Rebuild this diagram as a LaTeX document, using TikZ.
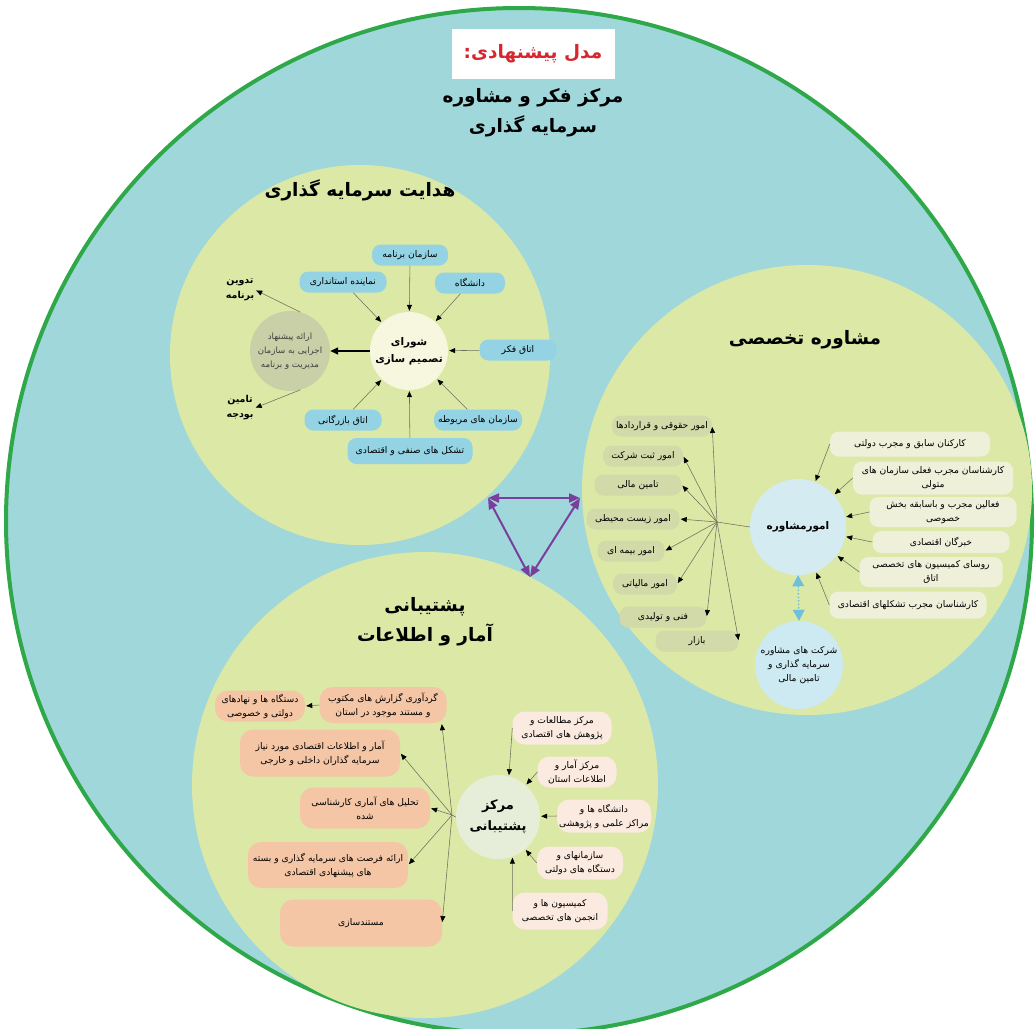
\documentclass[tikz,border=0pt]{standalone}
\usepackage{fontspec}
\usetikzlibrary{arrows.meta,calc}
\newfontfamily\arabicfont[Script=Arabic]{DejaVu Sans}
\TeXXeTstate=1
\newcommand\fa[1]{\beginR #1\endR}
\newcommand\fsm{\arabicfont\fontsize{9.2}{14}\selectfont}
\newcommand\fgr{\arabicfont\fontsize{8.6}{14}\selectfont}
\newcommand\fbsm{\arabicfont\bfseries\fontsize{9.5}{15}\selectfont}
\newcommand\fbmid{\arabicfont\bfseries\fontsize{10.5}{17}\selectfont}
\newcommand\fblg{\arabicfont\bfseries\fontsize{13}{21}\selectfont}
\newcommand\fttl{\arabicfont\bfseries\fontsize{18.5}{30}\selectfont}
\definecolor{bgteal}{HTML}{A0D7DB}
\definecolor{bordergreen}{HTML}{2FA84A}
\definecolor{yel}{HTML}{DCE8A6}
\definecolor{bluepill}{HTML}{93D3E3}
\definecolor{shurafill}{HTML}{F6F7DE}
\definecolor{grayfill}{HTML}{C9CFA6}
\definecolor{greenpill}{HTML}{D1DAA8}
\definecolor{creampill}{HTML}{EFF0DA}
\definecolor{moshfill}{HTML}{D4ECF1}
\definecolor{sherkatfill}{HTML}{CDE9F2}
\definecolor{salmon}{HTML}{F5C6A5}
\definecolor{pinkpill}{HTML}{FAEADF}
\definecolor{markazfill}{HTML}{E6EED9}
\definecolor{purp}{HTML}{7A3F9D}
\definecolor{lightblue}{HTML}{6CC0DF}
\definecolor{titlered}{HTML}{D7262E}
\definecolor{arrgray}{HTML}{6E6E5E}
\begin{document}
\begin{tikzpicture}[x=1pt,y=-1pt,
  arr/.style={draw=arrgray, line width=0.55pt, -{Triangle[length=6pt,width=5pt,color=black]}, shorten >=1pt},
  pill/.style={rounded corners=9pt, inner sep=1pt, minimum height=21pt, align=center, font=\fsm},
  bpill/.style={pill, fill=bluepill},
  gpill/.style={pill, fill=greenpill},
  cpill/.style={pill, fill=creampill},
  spill/.style={pill, fill=salmon, rounded corners=13pt},
  ppill/.style={pill, fill=pinkpill, rounded corners=12pt},
  ttl/.style={font=\fttl, align=center, text=black},
  blob/.style={circle, align=center, inner sep=1pt}
]
\useasboundingbox (0,0) rectangle (1036,1028);
\clip (0,0) rectangle (1036,1028);
\fill[white] (0,0) rectangle (1036,1028);
\draw[line width=4pt, draw=bordergreen, fill=bgteal] (519,521) circle[radius=513pt];

% three sub-circles
\fill[yel] (360,355) circle[radius=190pt];
\fill[yel] (807,490) circle[radius=225pt];
\fill[yel] (425,785) circle[radius=233pt];

% title
\node[fill=white, minimum width=163pt, minimum height=50pt, font=\fttl, text=titlered] (tbox) at (533,54) {\fa{مدل پیشنهادی:}};
\node[ttl] (maintitle) at (533,113) {\fa{مرکز فکر و مشاوره}\\\fa{سرمایه گذاری}};

% ---------- top circle ----------
\node[ttl] (t1) at (360,190) {\fa{هدایت سرمایه گذاری}};
\node[bpill, minimum width=76pt] (sb) at (410,255) {\fa{سازمان برنامه}};
\node[bpill, minimum width=87pt] (ns) at (343,282) {\fa{نماینده استانداری}};
\node[bpill, minimum width=70pt] (dn) at (470,283) {\fa{دانشگاه}};
\node[bpill, minimum width=77pt] (fk) at (518,350) {\fa{اتاق فکر}};
\node[bpill, minimum width=88pt] (mr) at (478,420) {\fa{سازمان های مربوطه}};
\node[bpill, minimum width=77pt] (bz) at (343,420) {\fa{اتاق بازرگانی}};
\node[bpill, minimum width=125pt, minimum height=26pt] (ts) at (410,451) {\fa{تشکل های صنفی و اقتصادی}};
\node[blob, fill=shurafill, minimum size=78pt, font=\fbmid] (shura) at (409,351) {\fa{شورای}\\\fa{تصمیم سازی}};
\node[blob, fill=grayfill, minimum size=80pt, font=\fgr, text=black!75] (gray) at (290,351) {\fa{ارائه پیشنهاد}\\\fa{اجرایی به سازمان}\\\fa{مدیریت و برنامه}};
\node[font=\fbsm, align=center, inner sep=1pt] (tadvin) at (240,290) {\fa{تدوین}\\\fa{برنامه}};
\node[font=\fbsm, align=center, inner sep=1pt] (tamin) at (240,408) {\fa{تامین}\\\fa{بودجه}};
\draw[arr] (sb) -- (shura);
\draw[arr] (ns) -- (shura);
\draw[arr] (dn) -- (shura);
\draw[arr] (fk) -- (shura);
\draw[arr] (mr) -- (shura);
\draw[arr] (bz) -- (shura);
\draw[arr] (ts) -- (shura);
\draw[draw=black, line width=1.6pt, -{Triangle[length=8pt,width=7pt]}] (shura) -- (gray);
\draw[arr] (gray.75) -- (tadvin.east);
\draw[arr] (gray.-75) -- (tamin.east);

% ---------- right circle ----------
\node[ttl] (t2) at (805,340) {\fa{مشاوره تخصصی}};
\node[gpill, minimum width=100pt] (p1) at (662,426) {\fa{امور حقوقی و قراردادها}};
\node[gpill, minimum width=80pt] (p2) at (643,456) {\fa{امور ثبت شرکت}};
\node[gpill, minimum width=87pt] (p3) at (638,485) {\fa{تامین مالی}};
\node[gpill, minimum width=93pt] (p4) at (633,519) {\fa{امور زیست محیطی}};
\node[gpill, minimum width=67pt] (p5) at (631,551) {\fa{امور بیمه ای}};
\node[gpill, minimum width=64pt] (p6) at (645,584) {\fa{امور مالیاتی}};
\node[gpill, minimum width=87pt] (p7) at (663,617) {\fa{فنی و تولیدی}};
\node[gpill, minimum width=83pt] (p8) at (697,641) {\fa{بازار}};
\coordinate (hub) at (717,522);
\node[blob, fill=moshfill, minimum size=96pt, font=\fbmid] (mosh) at (798,527) {\fa{امورمشاوره}};
\node[cpill, minimum width=160pt, minimum height=25pt] (k1) at (910,444) {\fa{کارکنان سابق و مجرب دولتی}};
\node[cpill, minimum width=160pt, minimum height=33pt] (k2) at (933,478) {\fa{کارشناسان مجرب فعلی سازمان های}\\\fa{متولی}};
\node[cpill, minimum width=147pt, minimum height=30pt] (k3) at (943,512) {\fa{فعالین مجرب و باسابقه بخش}\\\fa{خصوصی}};
\node[cpill, minimum width=137pt, minimum height=22pt] (k4) at (941,542) {\fa{خبرگان اقتصادی}};
\node[cpill, minimum width=143pt, minimum height=30pt] (k5) at (931,572) {\fa{روسای کمیسیون های تخصصی}\\\fa{اتاق}};
\node[cpill, minimum width=157pt, minimum height=27pt] (k6) at (908,605) {\fa{کارشناسان مجرب تشکلهای اقتصادی}};
\node[blob, fill=sherkatfill, minimum size=88pt, font=\fsm] (sherkat) at (799,665) {\fa{شرکت های مشاوره}\\\fa{سرمایه گذاری و}\\\fa{تامین مالی}};
\draw[draw=arrgray, line width=0.55pt] (mosh.west) -- (hub);
\foreach \p in {p1,p2,p3,p4,p5,p6,p7,p8} \draw[arr] (hub) -- (\p.east);
\foreach \k in {k1,k2,k3,k4,k5,k6} \draw[arr] (\k.west) -- (mosh);
\draw[draw=lightblue, line width=1.5pt, dotted, {Triangle[length=11pt,width=12pt,color=lightblue,line width=0pt]}-{Triangle[length=11pt,width=12pt,color=lightblue,line width=0pt]}] (mosh.south) -- (sherkat.north);

% ---------- bottom circle ----------
\node[ttl] (t3) at (425,622) {\fa{پشتیبانی}\\\fa{آمار و اطلاعات}};
\node[spill, minimum width=127pt, minimum height=36pt] (s1) at (383,705) {\fa{گردآوری گزارش های مکتوب}\\\fa{و مستند موجود در استان}};
\node[spill, minimum width=90pt, minimum height=31pt] (d1) at (260,706) {\fa{دستگاه ها و نهادهای}\\\fa{دولتی و خصوصی}};
\node[spill, minimum width=160pt, minimum height=47pt] (s2) at (320,753) {\fa{آمار و اطلاعات اقتصادی مورد نیاز}\\\fa{سرمایه گذاران داخلی و خارجی}};
\node[spill, minimum width=130pt, minimum height=41pt] (s3) at (365,808) {\fa{تحلیل های آماری کارشناسی}\\\fa{شده}};
\node[spill, minimum width=160pt, minimum height=46pt] (s4) at (328,865) {\fa{ارائه فرصت های سرمایه گذاری و بسته}\\\fa{های پیشنهادی اقتصادی}};
\node[spill, minimum width=162pt, minimum height=47pt] (s5) at (361,923) {\fa{مستندسازی}};
\node[blob, fill=markazfill, minimum size=84pt, font=\fblg] (markaz) at (498,817) {\fa{مرکز}\\\fa{پشتیبانی}};
\coordinate (hub2) at (452,815);
\node[ppill, minimum width=99pt, minimum height=33pt] (c1) at (562,728) {\fa{مرکز مطالعات و}\\\fa{پژوهش های اقتصادی}};
\node[ppill, minimum width=79pt, minimum height=31pt] (c2) at (577,772) {\fa{مرکز آمار و}\\\fa{اطلاعات استان}};
\node[ppill, minimum width=94pt, minimum height=33pt] (c3) at (604,816) {\fa{دانشگاه ها و}\\\fa{مراکز علمی و پژوهشی}};
\node[ppill, minimum width=86pt, minimum height=33pt] (c4) at (580,863) {\fa{سازمانهای و}\\\fa{دستگاه های دولتی}};
\node[ppill, minimum width=95pt, minimum height=37pt] (c5) at (560,911) {\fa{کمیسیون ها و}\\\fa{انجمن های تخصصی}};
\draw[draw=arrgray, line width=0.55pt] (markaz.west) -- (hub2);
\draw[arr] (hub2) -- ([xshift=-5pt]s1.south east);
\draw[arr] (hub2) -- (s2.east);
\draw[arr] (hub2) -- (s3.east);
\draw[arr] (hub2) -- (s4.east);
\draw[arr] (hub2) -- (s5.east);
\draw[arr] (s1.west) -- (d1.east);
\draw[arr] (c1.west) -- (markaz.75);
\draw[arr] (c2.west) -- (markaz);
\draw[arr] (c3.west) -- (markaz);
\draw[arr] (c4.west) -- (markaz);
\draw[arr] (c5.west) -- (markaz.-70);

% ---------- purple triangle ----------
\coordinate (pA) at (488,498);
\coordinate (pB) at (580,498);
\coordinate (pC) at (530,577);
\begin{scope}[draw=purp, line width=2pt, {Triangle[length=11pt,width=9pt,color=purp]}-{Triangle[length=11pt,width=9pt,color=purp]}]
\draw (pA) -- (pB);
\draw (pA) -- (pC);
\draw (pB) -- (pC);
\end{scope}
\end{tikzpicture}
\end{document}
